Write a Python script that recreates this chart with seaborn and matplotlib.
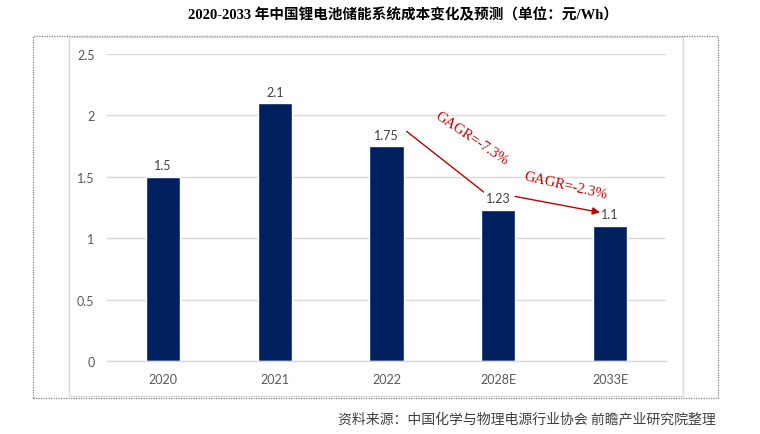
import matplotlib
matplotlib.use("Agg")
import matplotlib.pyplot as plt
import seaborn as sns
import pandas as pd
from matplotlib.patches import Rectangle

categories = ["2020", "2021", "2022", "2028E", "2033E"]
costs = [1.5, 2.1, 1.75, 1.23, 1.1]
value_labels = ["1.5", "2.1", "1.75", "1.23", "1.1"]
y_ticks = [0, 0.5, 1, 1.5, 2, 2.5]
y_tick_labels = ["0", "0.5", "1", "1.5", "2", "2.5"]
cagr_labels = ["GAGR=-7.3%", "GAGR=-2.3%"]
title = "2020-2033 年中国锂电池储能系统成本变化及预测（单位：元/Wh）"
source = "资料来源：中国化学与物理电源行业协会 前瞻产业研究院整理"

sns.set_theme(style="white")
plt.rcParams["font.family"] = ["Lato", "Noto Sans CJK SC", "DejaVu Sans"]

RED = "#C00000"
NAVY = "#002060"

df = pd.DataFrame({"year": categories, "cost": costs})

W, H = 760, 435
fig = plt.figure(figsize=(W / 100, H / 100), dpi=100)
ax = fig.add_axes([107 / W, 73 / H, 559 / W, 307 / H])

sns.barplot(data=df, x="year", y="cost", color=NAVY, width=0.305,
            saturation=1, ax=ax)

ax.set_xlim(-0.5, len(categories) - 0.5)
ax.set_ylim(0, 2.5)
ax.set_yticks(y_ticks)
ax.set_yticklabels(y_tick_labels)
ax.set_xlabel("")
ax.set_ylabel("")
ax.yaxis.grid(True, color="#D9D9D9", lw=1)
ax.set_axisbelow(True)
for s in ["top", "right", "left"]:
    ax.spines[s].set_visible(False)
ax.spines["bottom"].set_color("#D9D9D9")
ax.spines["bottom"].set_linewidth(1)
ax.tick_params(axis="both", length=0, labelsize=9, labelcolor="#595959", pad=9)

texts = ax.bar_label(ax.containers[0], labels=value_labels, padding=4,
                     fontsize=9, color="#404040")
texts[3].set_bbox(dict(facecolor="white", edgecolor="none", pad=1.2))
texts[3].set_zorder(6)

# CAGR arrows
ax.annotate("", xy=(2.99, 1.29), xytext=(2.18, 1.87),
            arrowprops=dict(arrowstyle="-|>", color=RED, lw=1,
                            mutation_scale=11, shrinkA=0, shrinkB=0),
            zorder=4)
ax.annotate("", xy=(3.91, 1.21), xytext=(3.15, 1.34),
            arrowprops=dict(arrowstyle="-|>", color=RED, lw=1,
                            mutation_scale=11, shrinkA=0, shrinkB=0),
            zorder=4)
ax.text(2.76, 1.82, cagr_labels[0], rotation=-34, ha="center", va="center",
        color=RED, fontsize=10.5, family=["Liberation Serif"])
ax.text(3.60, 1.43, cagr_labels[1], rotation=-13, ha="center", va="center",
        color=RED, fontsize=10.5, family=["Liberation Serif"])

# frames
fig.add_artist(Rectangle((33 / W, (H - 399) / H), (718 - 33) / W, (399 - 37) / H,
                         transform=fig.transFigure, fill=False,
                         ec="#7F7F7F", lw=0.9, ls=(0, (1, 1))))
fig.add_artist(Rectangle((69 / W, (H - 397) / H), (683 - 69) / W, (397 - 38) / H,
                         transform=fig.transFigure, fill=False,
                         ec="#D9D9D9", lw=1))

fig.text(403 / W, 1 - 15 / H, title, ha="center", va="center", fontsize=10.5,
         weight="bold", color="black",
         family=["Liberation Serif", "Noto Sans CJK SC"])
fig.text(716 / W, 1 - 419 / H, source, ha="right", va="center", fontsize=10,
         style="italic", color="#404040", family=["Noto Sans CJK SC"])

fig.savefig("out.png", dpi=100)
